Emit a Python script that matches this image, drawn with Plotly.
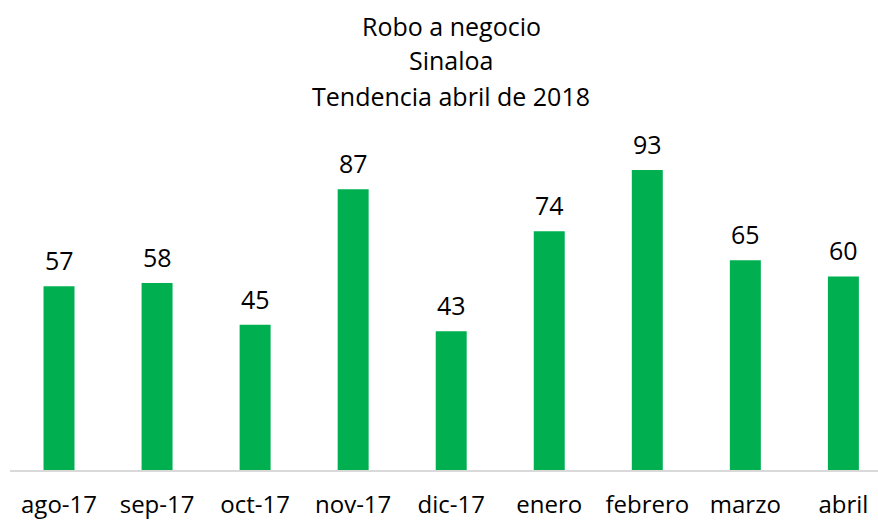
import plotly.graph_objects as go

categories = ["ago-17", "sep-17", "oct-17", "nov-17", "dic-17", "enero", "febrero", "marzo", "abril"]
values = [57, 58, 45, 87, 43, 74, 93, 65, 60]
title_lines = ["Robo a negocio", "Sinaloa", "Tendencia abril de 2018"]

FONT = "Open Sans, Lato, sans-serif"

W = 878; H = 523; L = 9.5; t = 140; b = 53
ph = H - t - b

fig = go.Figure(go.Bar(
    x=categories, y=values,
    marker=dict(color="#00B050", line=dict(width=0)),
    width=0.316,
    cliponaxis=False,
    hoverinfo="x+y",
))

for c, v in zip(categories, values):
    fig.add_annotation(x=c, y=v, text=str(v), showarrow=False, xref="x", yref="y",
                       xanchor="center", yanchor="bottom", yshift=7,
                       font=dict(size=25, color="#000000", family=FONT))

ys = [26, 60, 96]
for line, yy in zip(title_lines, ys):
    fig.add_annotation(text=line, x=(451 - L) / (W - L), y=(H - b - yy) / ph,
                       xref="paper", yref="paper", xanchor="center", yanchor="middle",
                       showarrow=False, font=dict(size=25, color="#000000", family=FONT))

fig.update_layout(
    width=W, height=H,
    margin=dict(l=L, r=0, t=t, b=b, pad=0),
    paper_bgcolor="white", plot_bgcolor="white",
    showlegend=False,
    font=dict(family=FONT, color="#000000"),
    xaxis=dict(range=[-0.5, 8.353], showgrid=False, showline=True, linecolor="#D9D9D9", linewidth=1.5,
               ticks="", tickfont=dict(size=24, color="#000000", family=FONT), ticklabelstandoff=12),
    yaxis=dict(range=[0, 102.3], visible=False, showgrid=False),
)

fig.write_html("out.html", config={"displayModeBar": False},
               post_script="document.body.style.margin='0';document.body.style.overflow='hidden';")
